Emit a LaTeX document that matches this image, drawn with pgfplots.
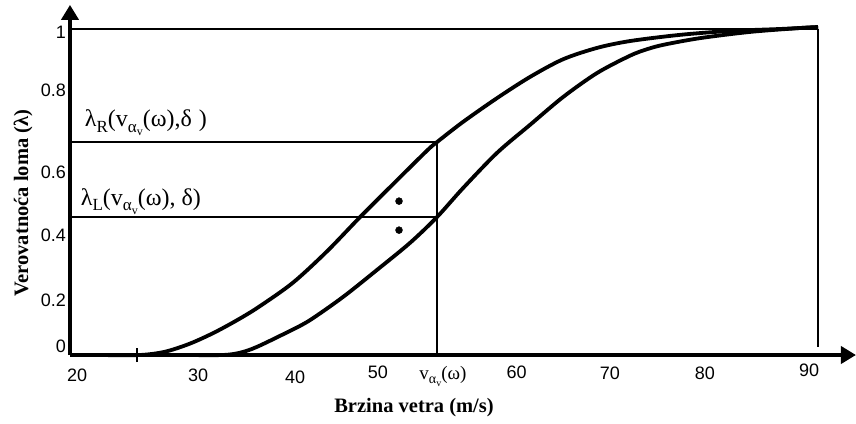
\documentclass[border=0pt]{standalone}
\usepackage{pgfplots}
\pgfplotsset{compat=1.18}
\usepackage{fontspec}
\setmainfont{Liberation Serif}
\newfontfamily\arial{Liberation Sans}
\usetikzlibrary{arrows.meta}
\newcommand{\sub}[2][17]{\raisebox{-0.22em}{\fontsize{#1}{#1}\selectfont #2}}

\pgfplotstableread{
x y
22.81 0
26.55 0
28.89 0.010
31.23 0.035
33.57 0.070
35.91 0.112
37.78 0.150
40.87 0.222
44.05 0.318
47.14 0.423
50.23 0.524
53.41 0.627
54.34 0.653
56.78 0.715
59.96 0.788
63.05 0.853
66.13 0.907
69.32 0.942
72.40 0.963
77.08 0.982
81.76 0.994
86.44 1.000
90.00 1.006
}\curveR

\pgfplotstableread{
x y
30.95 0
34.32 0
35.91 0.007
37.50 0.025
40.59 0.074
42.46 0.107
45.55 0.178
48.73 0.261
51.82 0.344
54.34 0.423
56.78 0.512
59.96 0.620
63.05 0.706
66.13 0.791
69.32 0.865
72.40 0.918
74.00 0.938
75.60 0.952
78.96 0.972
83.63 0.991
88.30 1.003
90.00 1.006
}\curveL

\begin{document}
\begin{tikzpicture}
\path[use as bounding box] (-70pt,-68pt) rectangle (786pt,355pt);
\begin{axis}[
  at={(0,0)}, anchor=south west,
  x=10.686pt, y=326pt,
  xmin=20, xmax=93.55, ymin=0, ymax=1.074,
  axis lines=left,
  axis line style={line width=4pt, -{Triangle[length=15pt,width=17pt]}},
  clip=false,
  major tick length=0pt,
  xtick={20.66,31.98,41.06,48.82,54.9,61.79,70.53,79.42,89.16},
  xticklabels={\raisebox{-2pt}{20},\raisebox{-2pt}{30},\raisebox{-4pt}{40},\raisebox{1pt}{50},{\rmfamily\fontsize{19}{21}\selectfont v\sub[14]{α\sub[10]{v}}(ω)},\raisebox{1pt}{60},70,80,\raisebox{3pt}{90}},
  ytick={0.028,0.169,0.368,0.561,0.813,0.99},
  yticklabels={0\hspace{9pt},0.2\hspace{3pt},0.4,0.6,0.8,1\hspace{8pt}},
  ticklabel style={font=\arial\fontsize{18}{20}\selectfont},
  xticklabel style={anchor=base, yshift=-24pt},
  yticklabel style={anchor=east, inner sep=0pt, xshift=-4pt},
  xlabel={Brzina vetra (m/s)},
  ylabel={Verovatnoća loma (λ)},
  label style={font=\bfseries\fontsize{20.5}{22}\selectfont},
  xlabel style={at={(axis description cs:0.4377,0)}, yshift=-53pt, anchor=center},
  ylabel style={at={(axis description cs:0,0.434)}, yshift=47pt, anchor=center},
]
\addplot[line width=1.5pt] coordinates {(20,1) (90,1)};
\addplot[line width=1.5pt] coordinates {(90,1) (90,0.025)};
\addplot[line width=1.5pt] coordinates {(20,0.653) (54.34,0.653) (54.34,0)};
\addplot[line width=1.5pt] coordinates {(20,0.423) (54.34,0.423)};
\addplot[line width=1.5pt] coordinates {(26.27,-0.022) (26.27,0.022)};
\addplot[line width=3.8pt, smooth] table {\curveR};
\addplot[line width=3.8pt, smooth] table {\curveL};
\addplot[only marks, mark=*, mark size=3.5pt] coordinates {(50.79,0.472) (50.79,0.383)};
\node[font=\fontsize{24}{26}\selectfont] at (axis cs:27.11,0.712) {λ\sub{R}(v\sub{α\sub[12]{v}}(ω),δ\hspace{7pt})};
\node[font=\fontsize{24}{26}\selectfont] at (axis cs:26.64,0.472) {λ\sub{L}(v\sub{α\sub[12]{v}}(ω), δ)};
\end{axis}
\end{tikzpicture}
\end{document}
